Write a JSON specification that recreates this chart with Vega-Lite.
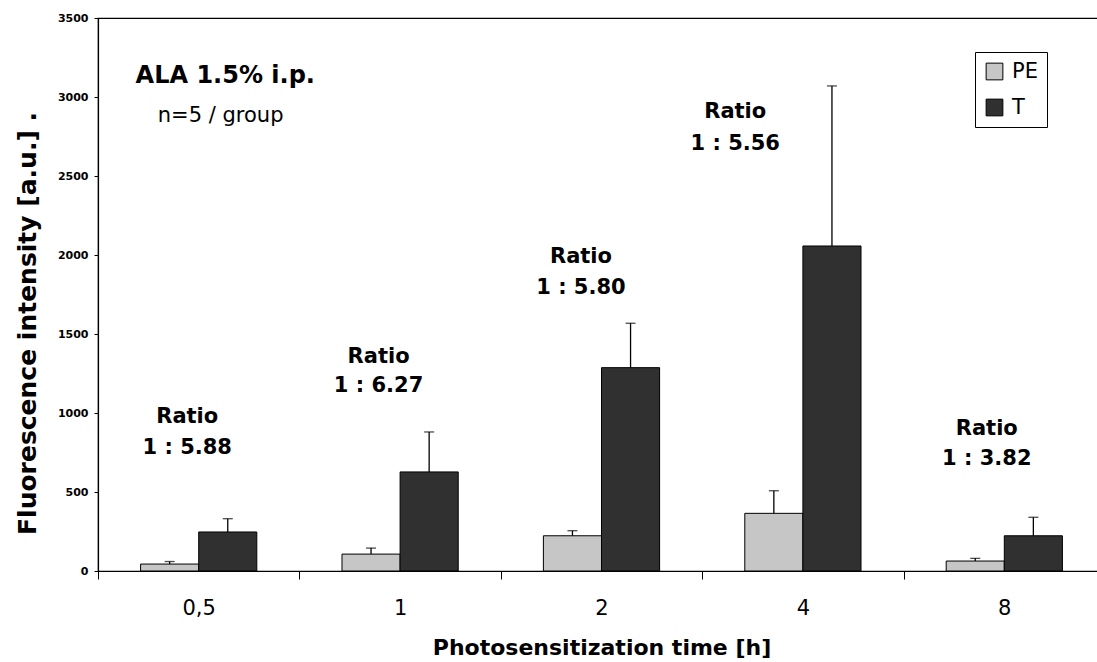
{
  "$schema": "https://vega.github.io/schema/vega-lite/v6.json",
  "autosize": {"type": "none"},
  "padding": {"left": 98, "top": 18, "right": 0, "bottom": 91},
  "width": 1007,
  "height": 553,
  "background": "white",
  "config": {
    "font": "DejaVu Sans",
    "view": {"stroke": "black", "strokeWidth": 1.2},
    "legend": {
      "orient": "none", "legendX": 877, "legendY": 34, "title": null,
      "strokeColor": "black", "fillColor": "white", "padding": 9,
      "symbolType": "square", "symbolSize": 280, "symbolStrokeColor": "black",
      "symbolStrokeWidth": 1, "symbolOpacity": 1, "labelFontSize": 21, "labelColor": "black",
      "labelFont": "DejaVu Sans", "rowPadding": 14, "labelOffset": 7
    }
  },
  "datasets": {
    "bars": [
      {"time": "0,5", "group": "PE", "mean": 44, "upper": 60},
      {"time": "0,5", "group": "T", "mean": 247, "upper": 331},
      {"time": "1", "group": "PE", "mean": 107, "upper": 145},
      {"time": "1", "group": "T", "mean": 627, "upper": 880},
      {"time": "2", "group": "PE", "mean": 223, "upper": 255},
      {"time": "2", "group": "T", "mean": 1287, "upper": 1568},
      {"time": "4", "group": "PE", "mean": 365, "upper": 508},
      {"time": "4", "group": "T", "mean": 2057, "upper": 3070},
      {"time": "8", "group": "PE", "mean": 63, "upper": 80},
      {"time": "8", "group": "T", "mean": 223, "upper": 340}
    ],
    "ratios": [
      {"pos": 0.443, "y": 937, "text": "Ratio"},
      {"pos": 0.443, "y": 740, "text": "1 : 5.88"},
      {"pos": 1.393, "y": 1316, "text": "Ratio"},
      {"pos": 1.393, "y": 1130, "text": "1 : 6.27"},
      {"pos": 2.398, "y": 1949, "text": "Ratio"},
      {"pos": 2.398, "y": 1753, "text": "1 : 5.80"},
      {"pos": 3.164, "y": 2867, "text": "Ratio"},
      {"pos": 3.164, "y": 2665, "text": "1 : 5.56"},
      {"pos": 4.413, "y": 861, "text": "Ratio"},
      {"pos": 4.413, "y": 671, "text": "1 : 3.82"}
    ],
    "head": [
      {"pos": 0.632, "y": 3089, "text": "ALA 1.5% i.p."}
    ],
    "sub": [
      {"pos": 0.609, "y": 2844, "text": "n=5 / group"}
    ]
  },
  "layer": [
    {
      "data": {"name": "bars"},
      "encoding": {
        "x": {
          "field": "time", "type": "nominal", "sort": ["0,5", "1", "2", "4", "8"],
          "scale": {"paddingInner": 0, "paddingOuter": 0},
          "axis": {
            "title": "Photosensitization time [h]", "titleFontSize": 22, "titleFontWeight": "bold",
            "titleColor": "black", "titleY": 83, "titleBaseline": "alphabetic", "labelAngle": 0, "labelFontSize": 21,
            "labelColor": "black", "labelPadding": 18, "tickBand": "extent", "tickSize": 8,
            "tickColor": "black", "domainColor": "black", "domainWidth": 1.2, "grid": false
          }
        },
        "xOffset": {
          "field": "group", "type": "nominal", "sort": ["PE", "T"],
          "scale": {"paddingInner": 0, "paddingOuter": 0.733}
        }
      },
      "layer": [
        {
          "mark": {"type": "bar", "stroke": "black", "strokeWidth": 1},
          "encoding": {
            "y": {
              "field": "mean", "type": "quantitative",
              "scale": {"domain": [0, 3500], "nice": false},
              "axis": {
                "title": "Fluorescence intensity [a.u.] .", "titleFontSize": 25, "titleFontWeight": "bold",
                "titleColor": "black", "titleX": -63, "titleY": 305, "titleBaseline": "alphabetic", "titleAlign": "center",
                "values": [0, 500, 1000, 1500, 2000, 2500, 3000, 3500], "format": "d",
                "labelFontSize": 11, "labelFontWeight": "bold", "labelColor": "black", "labelPadding": 6,
                "tickSize": 4, "tickColor": "black", "domainColor": "black", "domainWidth": 1.2, "grid": false
              }
            },
            "color": {
              "field": "group", "type": "nominal", "sort": ["PE", "T"],
              "scale": {"domain": ["PE", "T"], "range": ["#c6c6c6", "#303030"]}
            }
          }
        },
        {
          "mark": {"type": "rule", "color": "black", "strokeWidth": 1.3},
          "encoding": {
            "y": {"field": "mean", "type": "quantitative", "title": "Fluorescence intensity [a.u.] ."},
            "y2": {"field": "upper"}
          }
        },
        {
          "mark": {"type": "tick", "color": "black", "size": 10, "thickness": 1.3},
          "encoding": {
            "y": {"field": "upper", "type": "quantitative", "title": "Fluorescence intensity [a.u.] ."}
          }
        }
      ]
    },
    {
      "data": {"name": "ratios"},
      "mark": {"type": "text", "fontSize": 21, "fontWeight": "bold", "color": "black", "baseline": "alphabetic", "align": "center"},
      "encoding": {
        "x": {"field": "pos", "type": "quantitative", "scale": {"domain": [0, 5], "nice": false, "zero": false}, "axis": null},
        "y": {"field": "y", "type": "quantitative", "title": "Fluorescence intensity [a.u.] ."},
        "text": {"field": "text"}
      }
    },
    {
      "data": {"name": "head"},
      "mark": {"type": "text", "fontSize": 24, "fontWeight": "bold", "color": "black", "baseline": "alphabetic", "align": "center"},
      "encoding": {
        "x": {"field": "pos", "type": "quantitative", "scale": {"domain": [0, 5], "nice": false, "zero": false}, "axis": null},
        "y": {"field": "y", "type": "quantitative", "title": "Fluorescence intensity [a.u.] ."},
        "text": {"field": "text"}
      }
    },
    {
      "data": {"name": "sub"},
      "mark": {"type": "text", "fontSize": 21, "color": "black", "baseline": "alphabetic", "align": "center"},
      "encoding": {
        "x": {"field": "pos", "type": "quantitative", "scale": {"domain": [0, 5], "nice": false, "zero": false}, "axis": null},
        "y": {"field": "y", "type": "quantitative", "title": "Fluorescence intensity [a.u.] ."},
        "text": {"field": "text"}
      }
    }
  ],
  "resolve": {"scale": {"x": "independent"}}
}
